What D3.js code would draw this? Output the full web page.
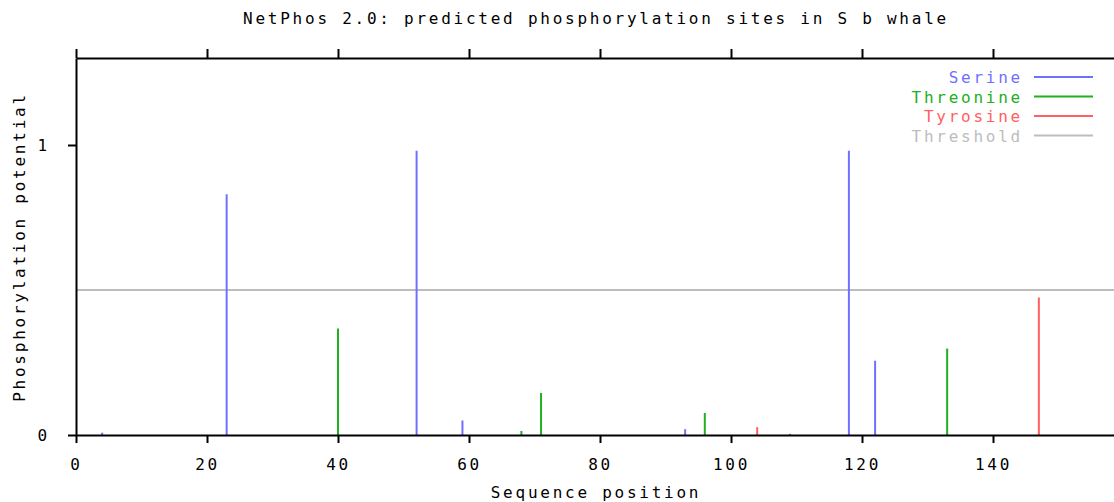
<!DOCTYPE html>
<html>
<head>
<meta charset="utf-8">
<script src="https://cdn.jsdelivr.net/npm/d3@7"></script>
<style>
  body { margin: 0; background: #fff; }
  svg { display: block; }
  text { font-family: "DejaVu Sans Mono", monospace; font-size: 16px; letter-spacing: 2.75px; }
</style>
</head>
<body>
<svg width="1114" height="502"></svg>
<script>
var width = 1114, height = 502

// values
var serinePos = [4, 23, 52, 59, 93, 109, 118, 122]
var serineVal = [0.008, 0.83, 0.98, 0.05, 0.02, 0.004, 0.98, 0.256]
var threoninePos = [40, 68, 71, 96, 133]
var threonineVal = [0.367, 0.014, 0.145, 0.076, 0.298]
var tyrosinePos = [104, 147]
var tyrosineVal = [0.027, 0.474]
var threshold = 0.5
var xTicks = [0, 20, 40, 60, 80, 100, 120, 140]
var yTicks = [0, 1]

var series = [
  {name: 'Serine', color: '#7070ff', pos: serinePos, val: serineVal},
  {name: 'Threonine', color: '#20b020', pos: threoninePos, val: threonineVal},
  {name: 'Tyrosine', color: '#ff6060', pos: tyrosinePos, val: tyrosineVal}
]
var thresholdColor = '#bdbdbd'

var plotLeft = 76, plotTop = 58, plotBottom = 435

var x = d3.scaleLinear().domain([0, 160]).range([plotLeft, plotLeft + 160 * 6.55])
var y = d3.scaleLinear().domain([0, 1.3]).range([plotBottom, plotTop])

var svg = d3.select('svg')

// threshold line
svg.append('line')
  .attr('x1', plotLeft).attr('x2', width)
  .attr('y1', y(threshold)).attr('y2', y(threshold))
  .attr('stroke', thresholdColor).attr('stroke-width', 2)

// site bars
series.forEach(function(s) {
  svg.append('g').selectAll('line')
    .data(s.pos.map(function(p, i) { return {p: p, v: s.val[i]} }))
    .enter().append('line')
    .attr('x1', function(d) { return x(d.p) }).attr('x2', function(d) { return x(d.p) })
    .attr('y1', y(0)).attr('y2', function(d) { return y(d.v) })
    .attr('stroke', s.color).attr('stroke-width', 2)
})

// axes
var bottomAxis = d3.axisBottom(x).tickValues(xTicks).tickSize(8).tickPadding(16).tickSizeOuter(0)
var topAxis = d3.axisTop(x).tickValues(xTicks).tickSize(9).tickFormat('').tickSizeOuter(0)
var leftAxis = d3.axisLeft(y).tickValues(yTicks).tickFormat(d3.format('d'))
  .tickSize(8).tickPadding(18).tickSizeOuter(0)

function styleAxis(g) {
  g.select('.domain').attr('stroke', '#000').attr('stroke-width', 2)
  g.selectAll('.tick line').attr('stroke', '#000').attr('stroke-width', 2)
  g.selectAll('.tick text').attr('fill', '#000')
    .style('font-family', '"DejaVu Sans Mono", monospace').style('font-size', '16px')
}

svg.append('g').attr('transform', 'translate(0,' + plotBottom + ')').call(bottomAxis).call(styleAxis)
svg.append('g').attr('transform', 'translate(0,' + plotTop + ')').call(topAxis).call(styleAxis)
svg.append('g').attr('transform', 'translate(' + plotLeft + ',0)').call(leftAxis).call(styleAxis)

// titles
svg.append('text').attr('x', 596).attr('y', 24).attr('text-anchor', 'middle')
  .text('NetPhos 2.0: predicted phosphorylation sites in S b whale')
svg.append('text').attr('x', 596).attr('y', 498).attr('text-anchor', 'middle')
  .text('Sequence position')
svg.append('text').attr('transform', 'translate(25,247) rotate(-90)').attr('text-anchor', 'middle')
  .text('Phosphorylation potential')

// legend
var legendItems = series.map(function(s) { return {name: s.name, color: s.color} })
legendItems.push({name: 'Threshold', color: thresholdColor})

var lg = svg.append('g').selectAll('g').data(legendItems).enter().append('g')
  .attr('transform', function(d, i) { return 'translate(0,' + (77 + i * 19.5) + ')' })
lg.append('text').attr('x', 1023).attr('y', 6).attr('text-anchor', 'end')
  .attr('fill', function(d) { return d.color })
  .text(function(d) { return d.name })
lg.append('line').attr('x1', 1034).attr('x2', 1093)
  .attr('stroke', function(d) { return d.color }).attr('stroke-width', 2)
</script>
</body>
</html>
